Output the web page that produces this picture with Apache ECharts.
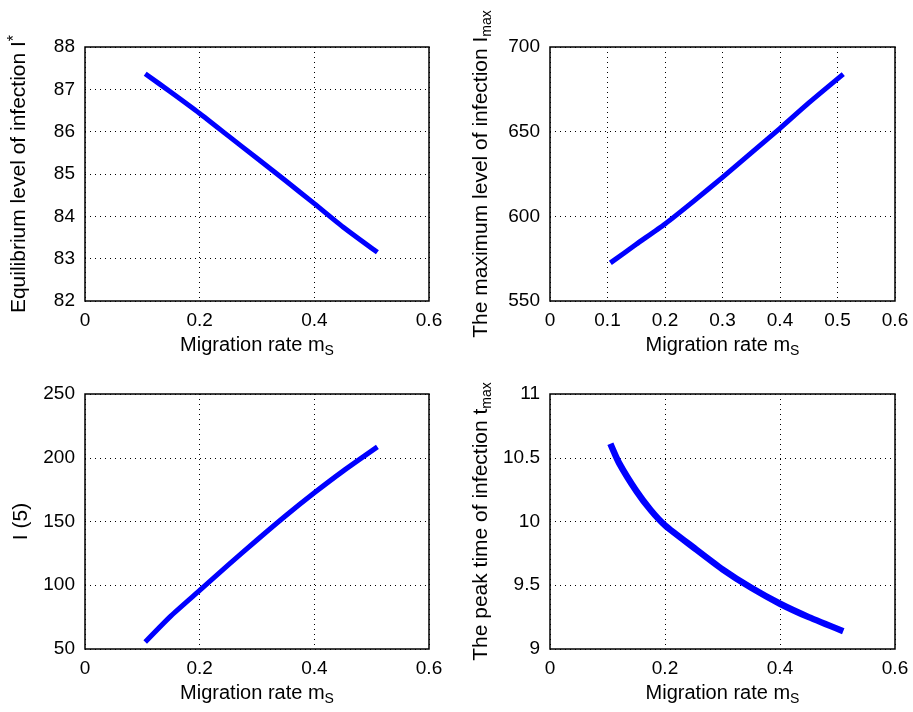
<!DOCTYPE html>
<html><head><meta charset="utf-8">
<script src="https://cdn.jsdelivr.net/npm/echarts@6/dist/echarts.min.js"></script>
<style>html,body{margin:0;padding:0;background:#fff}#c{width:913px;height:712px}</style>
</head><body><div id="c"></div>
<script>
const migration = [0.105, 0.15, 0.2, 0.25, 0.3, 0.35, 0.4, 0.45, 0.51];
const equilibriumI = [87.37, 86.93, 86.43, 85.90, 85.37, 84.84, 84.30, 83.75, 83.15];
const maxI = [572.5, 583.5, 595.5, 609, 623, 637.5, 652, 667, 684];
const infectionAt5 = [55.5, 76, 96, 116, 135.5, 154.5, 172.5, 189.5, 208.5];
const migrationT = [0.105, 0.12, 0.15, 0.175, 0.2, 0.25, 0.3, 0.35, 0.4, 0.45, 0.51];
const peakTime = [10.61, 10.46, 10.24, 10.09, 9.97, 9.795, 9.625, 9.48, 9.355, 9.25, 9.14];

const FONT = 'Liberation Sans, Arial, sans-serif';
const TICK = 19, XNAME = 20, YNAME = 21;
const grids = [
  {left: 85, top: 47, width: 344, height: 254},
  {left: 550, top: 47, width: 345, height: 254},
  {left: 85, top: 394, width: 344, height: 255},
  {left: 550, top: 394, width: 345, height: 255}
].map(g => Object.assign(g, {show: true, borderColor: '#000', borderWidth: 1.5, backgroundColor: '#fff'}));

const xRich = {n: {fontSize: XNAME, fontFamily: FONT, color: '#000'}, s: {fontSize: 14, fontFamily: FONT, color: '#000', padding: [11, 0, 0, 0]}};
function xAxis(i, interval) {
  return {
    type: 'value', gridIndex: i, min: 0, max: 0.6, interval: interval,
    name: '{n|Migration rate m}{s|S}', nameLocation: 'middle', nameGap: 32,
    nameTextStyle: {rich: xRich},
    axisLine: {show: false}, axisTick: {show: false},
    axisLabel: {fontSize: TICK, fontFamily: FONT, color: '#000', margin: 10, formatter: v => String(+v.toFixed(2))},
    splitLine: {show: true, lineStyle: {color: '#000', type: [1, 4], width: 1}}
  };
}
function yAxis(i, min, max, interval, name, gap, rich) {
  return {
    type: 'value', gridIndex: i, min: min, max: max, interval: interval,
    name: name, nameLocation: 'middle', nameGap: gap,
    nameTextStyle: {fontSize: YNAME, fontFamily: FONT, color: '#000', rich: rich},
    axisLine: {show: false}, axisTick: {show: false},
    axisLabel: {fontSize: TICK, fontFamily: FONT, color: '#000', margin: 10},
    splitLine: {show: true, lineStyle: {color: '#000', type: [1, 4], width: 1}}
  };
}
const supRich = {n: {fontSize: YNAME, fontFamily: FONT, color: '#000'}, p: {fontSize: 16, fontFamily: FONT, color: '#000', padding: [0, 0, 9, 0]}};
const subRich = {n: {fontSize: YNAME, fontFamily: FONT, color: '#000'}, s: {fontSize: 14, fontFamily: FONT, color: '#000', padding: [12, 0, 0, 0]}};

function line(i, xs, ys, w) {
  return {
    type: 'line', xAxisIndex: i, yAxisIndex: i, data: xs.map((x, k) => [x, ys[k]]),
    showSymbol: false, smooth: 0.2, lineStyle: {color: '#0000ff', width: w, join: 'round', cap: 'butt'}, z: 5
  };
}

const chart = echarts.init(document.getElementById('c'), null, {renderer: 'canvas'});
chart.setOption({
  animation: false,
  backgroundColor: '#fff',
  grid: grids,
  xAxis: [xAxis(0, 0.2), xAxis(1, 0.1), xAxis(2, 0.2), xAxis(3, 0.2)],
  yAxis: [
    yAxis(0, 82, 88, 1, '{n|Equilibrium level of infection I}{p|*}', 53, supRich),
    yAxis(1, 550, 700, 50, '{n|The maximum level of infection I}{s|max}', 56, subRich),
    yAxis(2, 50, 250, 50, '{n|I (5)}', 53, subRich),
    yAxis(3, 9, 11, 0.5, '{n|The peak time of infection t}{s|max}', 56, subRich)
  ],
  series: [
    line(0, migration, equilibriumI, 5),
    line(1, migration, maxI, 5),
    line(2, migration, infectionAt5, 5),
    line(3, migrationT, peakTime, 6.5)
  ]
});
</script></body></html>
